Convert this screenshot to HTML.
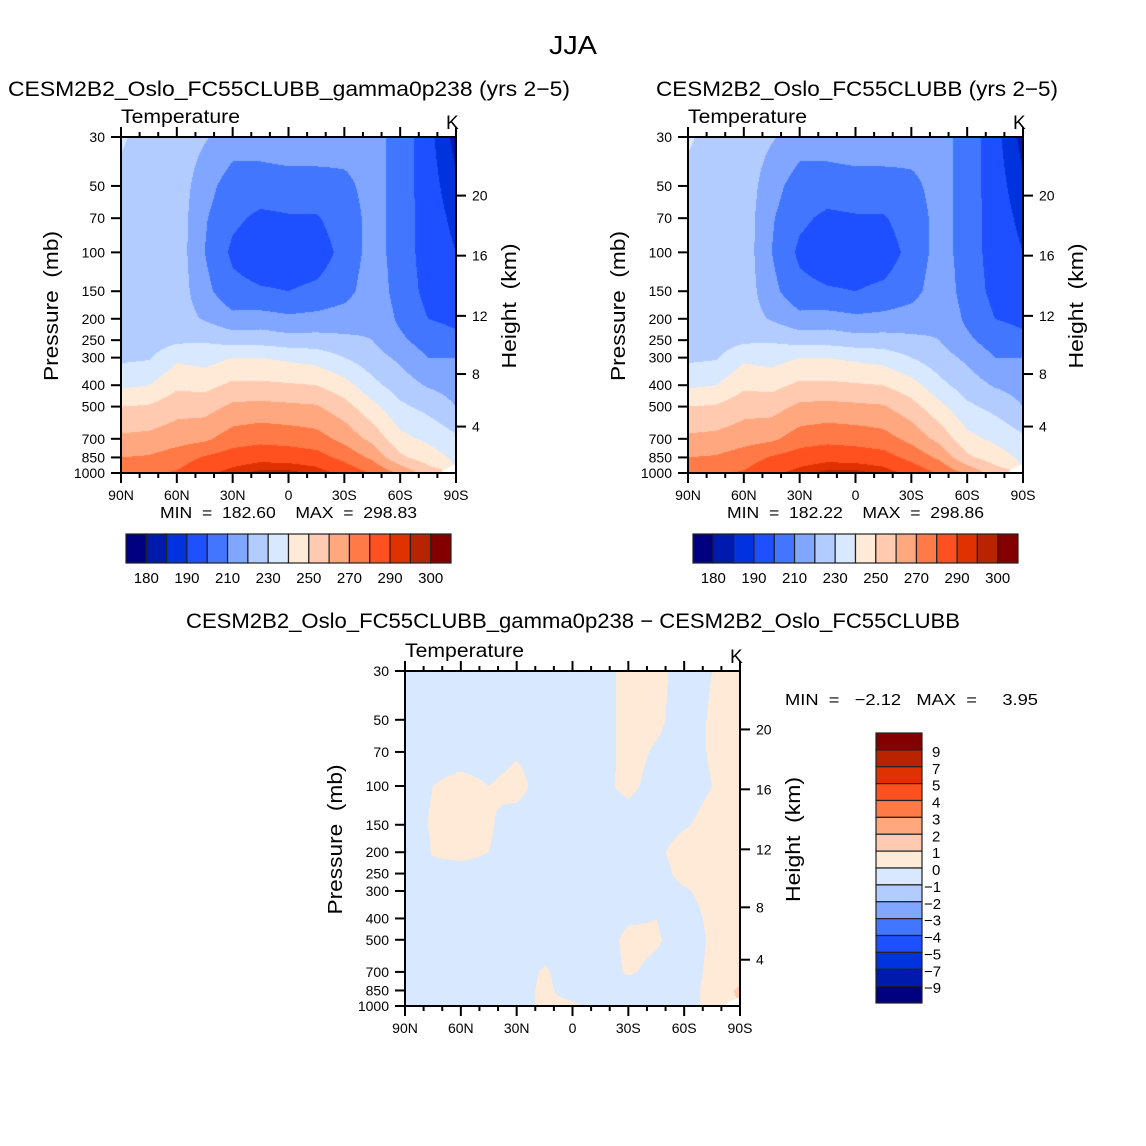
<!DOCTYPE html>
<html><head><meta charset="utf-8"><style>
html,body{margin:0;padding:0;background:#fff;}
#root{position:relative;width:1146px;height:1146px;overflow:hidden;}
canvas{position:absolute;}
svg{position:absolute;left:0;top:0;}
text{font-family:"Liberation Sans","DejaVu Sans",sans-serif;fill:#000;white-space:pre;}
</style></head><body>
<div id="root">
<canvas id="c1" width="335" height="336" style="left:121px;top:137px"></canvas>
<canvas id="c2" width="335" height="336" style="left:688px;top:137px"></canvas>
<canvas id="c3" width="335" height="335" style="left:405px;top:671px"></canvas>
<svg id="sv" width="1146" height="1146"></svg>
</div>
<script>
const lats = [90,75,60,45,30,15,0,-15,-30,-45,-60,-75,-90];
const plevs = [30,50,70,100,150,200,250,300,400,500,700,850,1000];
const tempExp = [
[231,227,226,221,215,215,216,216,214,212,208,192,183],
[228,226,226,214,205,205,206,206,208,213,207,193,186],
[228,226,226,211,202,198,199,199,205,213,207,194,188],
[228,226,226,210,198,194,194,195,203,214,206,195,190],
[228,226,226,213,203,201,200,202,206,216,206,197,194],
[226,225,225,219,213,214,212,213,215,218,208,200,198],
[226,225,228,229,226,226,224,224,222,220,212,205,202],
[228,229,238,236,240,240,238,236,230,224,218,210,210],
[238,240,248,247,252,252,251,250,244,233,225,219,216],
[250,251,256,256,262,263,262,261,254,243,232,227,220],
[262,263,266,268,275,277,276,274,267,257,243,238,232],
[270,271,275,281,285,287,286,284,277,268,252,245,238],
[278,279,281,288,293,297,297,294,287,279,268,255,NaN]];
const tempCtl = [
[231,227,226,221,215,215,216,216,214,212,208,192,183],
[228,226,226,214,205,205,206,206,208,213,207,193,186],
[228,226,226,211,202,198,199,199,205,213,207,194,188],
[228,226,226,210,198,194,194,195,203,214,206,195,190],
[228,226,226,213,203,201,200,202,206,216,206,197,194],
[226,225,225,219,213,214,212,213,215,218,208,200,198],
[226,225,228,229,226,226,224,224,222,220,212,205,202],
[228,229,238,236,240,240,238,236,230,224,218,210,210],
[238,240,248,247,252,252,251,250,244,233,225,219,216],
[250,251,256,256,262,263,262,261,254,243,232,227,220],
[262,263,266,268,275,277,276,274,267,257,243,238,232],
[270,271,275,281,285,287,286,284,277,268,252,245,238],
[278,279,281,288,293,297,297,294,287,279,268,255,NaN]];
const diffVals = [
[-0.4,-0.4,-0.4,-0.4,-0.4,-0.4,-0.4,-0.4,0.3,0.3,-0.4,0.0,0.3],
[-0.4,-0.4,-0.4,-0.4,-0.4,-0.4,-0.4,-0.4,0.3,0.2,-0.4,0.1,0.3],
[-0.4,-0.4,-0.4,-0.4,-0.1,-0.4,-0.4,-0.4,0.3,-0.1,-0.4,0.1,0.3],
[-0.4,0.0,0.3,0.0,0.3,-0.4,-0.4,-0.2,0.2,-0.3,-0.4,0.0,0.3],
[-0.4,0.1,0.4,0.1,-0.4,-0.4,-0.4,-0.4,-0.4,-0.4,-0.1,0.3,0.4],
[-1.1,0.1,0.3,0.0,-0.4,-0.4,-0.4,-0.4,-0.4,-0.2,0.4,0.4,0.4],
[-0.4,-0.4,-0.4,-0.4,-0.4,-0.4,-0.4,-0.4,-0.4,-0.4,0.3,0.4,0.4],
[-0.4,-0.4,-0.4,-0.4,-0.4,-0.4,-0.4,-0.4,-0.4,-0.4,-0.1,0.3,0.4],
[-0.4,-0.4,-0.4,-0.4,-0.4,-0.4,-0.4,-0.4,-0.1,0.0,-0.4,0.2,0.4],
[-0.4,-0.4,-0.4,-0.4,-0.4,-0.4,-0.4,-0.4,0.2,0.1,-0.4,0.1,0.4],
[-0.4,-0.4,-0.4,-0.4,-0.4,0.1,-0.4,-0.4,0.1,-0.2,-0.4,0.2,0.4],
[-0.4,-0.4,-0.4,-0.4,-0.4,0.2,-0.4,-0.4,-0.4,-0.4,-0.4,0.3,1.2],
[-0.1,-0.4,-0.4,-0.4,-0.4,0.2,0.2,-0.4,-0.4,-0.4,-0.4,0.3,NaN]];
const tempLevels = [180,185,190,200,210,220,230,240,250,260,270,280,290,295,300];
const tempLabels = ["180","190","210","230","250","270","290","300"];
const diffLevels = [-9,-7,-5,-4,-3,-2,-1,0,1,2,3,4,5,7,9];
const diffLabels = ["9","7","5","4","3","2","1","0","−1","−2","−3","−4","−5","−7","−9"];
const colors = ["#000080","#001aad","#0033dd","#1e50ff","#4276ff","#80a6ff","#b3ccff","#d7e8ff","#ffead7","#ffcab0","#ffa880","#ff7a46","#ff5020","#e03200","#b82400","#840000"];
const pTicks = [30,50,70,100,150,200,250,300,400,500,700,850,1000];
const kmTicks = [4,8,12,16,20];
const kmPress = [616,356,194,103.5,55.3];
const latTicks = [90,60,30,0,-30,-60,-90];
const latLabels = ["90N","60N","30N","0","30S","60S","90S"];

const NS = "http://www.w3.org/2000/svg";
const sv = document.getElementById('sv');
function el(tag, attrs, txt){const e=document.createElementNS(NS,tag);for(const k in attrs)e.setAttribute(k,attrs[k]);if(txt!==undefined)e.textContent=txt;sv.appendChild(e);return e;}
function colorFor(v, lv){let i=0;while(i<lv.length&&v>=lv[i])i++;return colors[i];}

function drawField(id, data, lv){
  const cv=document.getElementById(id), ctx=cv.getContext('2d');
  const W=cv.width,H=cv.height;
  const lp=plevs.map(p=>Math.log10(p)), l0=Math.log10(30), l1=Math.log10(1000);
  for(let py=0;py<H;py++){
    const L=l0+(py+0.5)/H*(l1-l0);
    let r=0;while(r<plevs.length-2&&L>lp[r+1])r++;
    const fy=Math.min(1,Math.max(0,(L-lp[r])/(lp[r+1]-lp[r])));
    for(let px=0;px<W;px++){
      const lat=90-(px+0.5)/W*180;
      let c=0;while(c<lats.length-2&&lat<lats[c+1])c++;
      const fx=Math.min(1,Math.max(0,(lats[c]-lat)/(lats[c]-lats[c+1])));
      const corners=[[data[r][c],(1-fx)*(1-fy)],[data[r][c+1],fx*(1-fy)],[data[r+1][c],(1-fx)*fy],[data[r+1][c+1],fx*fy]];
      let s=0,w=0,nw=0;
      for(const [v,wt] of corners){if(isNaN(v))nw+=wt;else{s+=v*wt;w+=wt;}}
      if(nw>0.45||w===0){continue;}
      ctx.fillStyle=colorFor(s/w,lv);
      ctx.fillRect(px,py,1,1);
    }
  }
}
drawField('c1',tempExp,tempLevels);
drawField('c2',tempCtl,tempLevels);
drawField('c3',diffVals,diffLevels);

function axes(x0,y0,w,h,pfx){
  const yOf=p=>y0+h*Math.log10(p/30)/Math.log10(1000/30);
  const xOf=l=>x0+(90-l)/180*w;
  el('rect',{x:x0,y:y0,width:w,height:h,fill:'none',stroke:'#000','stroke-width':2,});
  pTicks.forEach(p=>{const y=yOf(p);
    el('line',{x1:x0-10,y1:y,x2:x0,y2:y,stroke:'#000','stroke-width':2});
    const t=el('text',{x:x0-16,y:y+5,'text-anchor':'end','font-size':14},String(p));
    });
  kmTicks.forEach((k,i)=>{const y=yOf(kmPress[i]);
    el('line',{x1:x0+w,y1:y,x2:x0+w+10,y2:y,stroke:'#000','stroke-width':2});
    const t=el('text',{x:x0+w+16,y:y+5,'font-size':14},String(k));
    });
  for(let l=90;l>=-90;l-=10){const x=xOf(l);const big=l%30===0;
    el('line',{x1:x,y1:y0+h,x2:x,y2:y0+h+(big?10:5),stroke:'#000','stroke-width':2});
    el('line',{x1:x,y1:y0,x2:x,y2:y0-(big?10:5),stroke:'#000','stroke-width':2});}
  latTicks.forEach((l,i)=>{const t=el('text',{x:xOf(l),y:y0+h+27,'text-anchor':'middle','font-size':14},latLabels[i]);
    });
  el('text',{x:x0,y:y0-14,'font-size':19,textLength:119,lengthAdjust:'spacingAndGlyphs',},'Temperature');
  el('text',{x:x0+w-10,y:y0-8,'font-size':19,},'K');
  el('text',{x:0,y:0,'font-size':20,'text-anchor':'middle',textLength:150,lengthAdjust:'spacingAndGlyphs',transform:`translate(${x0-63},${y0+h/2+1}) rotate(-90)`,},'Pressure  (mb)');
  el('text',{x:0,y:0,'font-size':20,'text-anchor':'middle',textLength:125,lengthAdjust:'spacingAndGlyphs',transform:`translate(${x0+w+60},${y0+h/2+1}) rotate(-90)`,},'Height  (km)');
}
axes(121,137,335,336,'exp');
axes(688,137,335,336,'ctl');
axes(405,671,335,335,'diff');

function hbar(x0,y0,pfx){
  const bw=325/16;
  colors.forEach((c,i)=>{const r=el('rect',{x:x0+i*bw,y:y0,width:bw,height:29,fill:c,stroke:'#222','stroke-width':1.2});
    });
  const idx=[0,2,4,6,8,10,12,14];
  idx.forEach((b,i)=>{const t=el('text',{x:x0+(b+1)*bw,y:y0+49,'text-anchor':'middle','font-size':15},tempLabels[i]);
    });
}
hbar(126,534,'exp');hbar(693,534,'ctl');
(function(){const x0=876,y0=733,bh=270/16;
  for(let i=0;i<16;i++){const r=el('rect',{x:x0,y:y0+i*bh,width:46,height:bh,fill:colors[15-i],stroke:'#222','stroke-width':1.2});
    }
  diffLabels.forEach((s,i)=>{const t=el('text',{x:s.startsWith('−')?924:932,y:y0+(i+1)*bh+7,'font-size':15},s);
    });
})();
el('text',{x:573,y:54,'text-anchor':'middle','font-size':26,textLength:48,lengthAdjust:'spacingAndGlyphs',},'JJA');
el('text',{x:8,y:96,'font-size':21,textLength:562,lengthAdjust:'spacingAndGlyphs',},'CESM2B2_Oslo_FC55CLUBB_gamma0p238 (yrs 2−5)');
el('text',{x:656,y:96,'font-size':21,textLength:402,lengthAdjust:'spacingAndGlyphs',},'CESM2B2_Oslo_FC55CLUBB (yrs 2−5)');
el('text',{x:186,y:628,'font-size':21,textLength:774,lengthAdjust:'spacingAndGlyphs',},'CESM2B2_Oslo_FC55CLUBB_gamma0p238 − CESM2B2_Oslo_FC55CLUBB');
el('text',{x:160,y:518,'font-size':16,textLength:257,lengthAdjust:'spacingAndGlyphs',},'MIN  =  182.60    MAX  =  298.83');
el('text',{x:727,y:518,'font-size':16,textLength:257,lengthAdjust:'spacingAndGlyphs',},'MIN  =  182.22    MAX  =  298.86');
el('text',{x:785,y:705,'font-size':16,textLength:253,lengthAdjust:'spacingAndGlyphs',},'MIN  =   −2.12   MAX  =     3.95');
</script>
</body></html>
